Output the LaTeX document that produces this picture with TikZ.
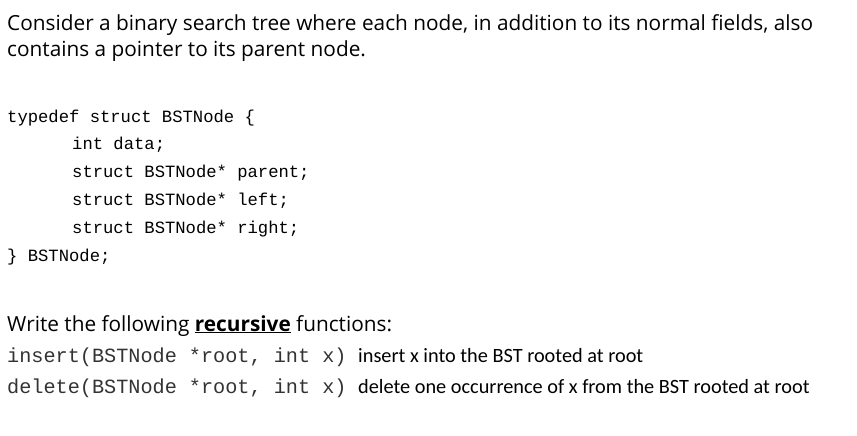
\documentclass[tikz,border=0pt]{standalone}
\usepackage{fontspec}
\setmainfont{Carlito}
\newfontfamily\headfont{Open Sans}
\setmonofont{Liberation Mono}
\begin{document}
\begin{tikzpicture}[x=1pt,y=-1pt,
  txt/.style={anchor=base west,inner sep=0pt,font=\headfont\fontsize{20.8}{24}\selectfont},
  code/.style={anchor=base west,inner sep=0pt,font=\ttfamily\fontsize{17.2}{20}\selectfont},
  fn/.style={anchor=base west,inner sep=0pt,font=\ttfamily\fontsize{20.2}{22}\selectfont,text=black!80},
  desc/.style={anchor=base west,inner sep=0pt,font=\fontsize{20.3}{22}\selectfont}]
\useasboundingbox[fill=white] (0,0) rectangle (857,436);
\node[txt] (l1) at (7,31) {Consider a binary search tree where each node, in addition to its normal fields, also};
\node[txt] (l2) at (7,57) {contains a pointer to its parent node.};
\node[code] (c1) at (7,122) {typedef struct BSTNode \{};
\node[code] (c2) at (72,149) {int data;};
\node[code] (c3) at (72,177) {struct BSTNode* parent;};
\node[code] (c4) at (72,205) {struct BSTNode* left;};
\node[code] (c5) at (72,233) {struct BSTNode* right;};
\node[code] (c6) at (7,261) {\} BSTNode;};
\node[txt] (w) at (7,331) {Write the following \underline{\textbf{recursive}} functions:};
\node[fn] (f1) at (7,362) {insert(BSTNode *root, int x)};
\node[desc] (d1) at (358,362) {insert x into the BST rooted at root};
\node[fn] (f2) at (7,393) {delete(BSTNode *root, int x)};
\node[desc] (d2) at (358,393) {delete one occurrence of x from the BST rooted at root};
\end{tikzpicture}
\end{document}
